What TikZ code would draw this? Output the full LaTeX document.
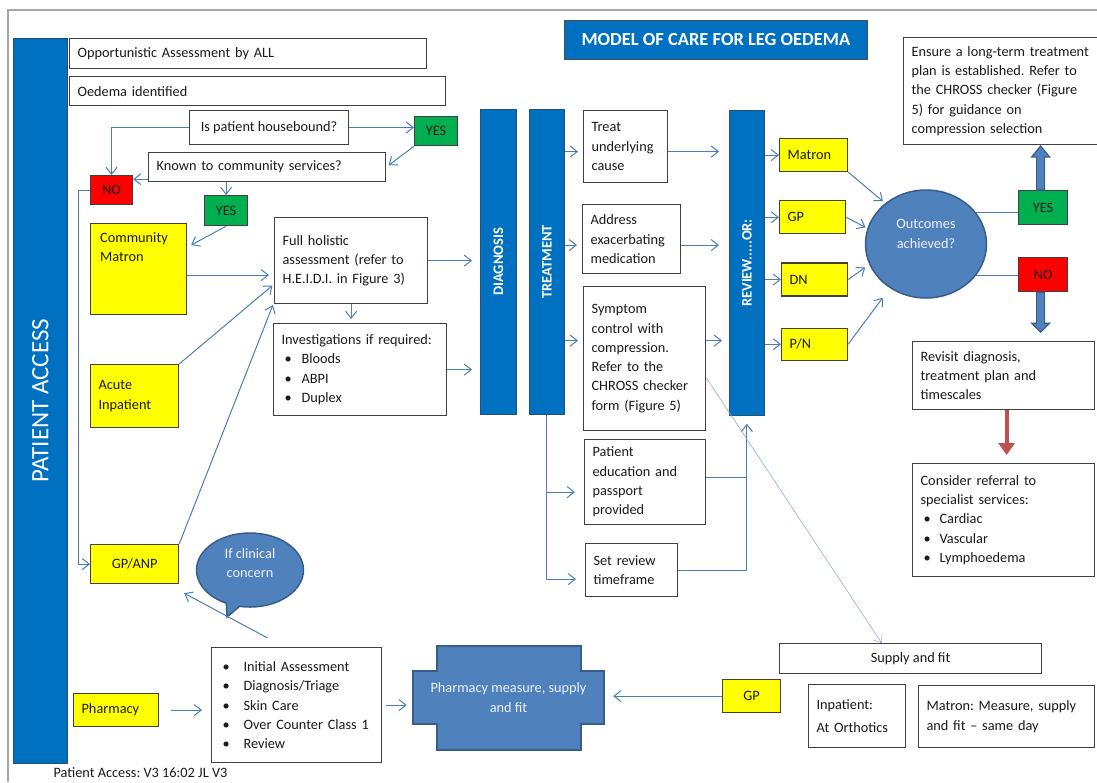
\documentclass[tikz,border=0pt]{standalone}
\usepackage{fontspec}
\setmainfont{Carlito}
\usetikzlibrary{arrows.meta, positioning, shapes.geometric, shapes.callouts}
\definecolor{nhsblue}{HTML}{0070C0}
\definecolor{barline}{HTML}{25507A}
\definecolor{conn}{HTML}{4A7EBB}
\definecolor{shapefill}{HTML}{4F81BD}
\definecolor{shapeline}{HTML}{385D8A}
\definecolor{shapetext}{HTML}{EEF2F8}
\definecolor{yel}{HTML}{FFFF00}
\definecolor{grn}{HTML}{00B050}
\definecolor{rd}{HTML}{FF0000}
\definecolor{redarrow}{HTML}{C0504D}
\definecolor{frame}{HTML}{A6A6A6}
\definecolor{txt}{HTML}{1A1A1A}
\newcommand{\blt}[1][20pt]{\makebox[#1][l]{\hspace{3pt}\textbullet}}
\frenchspacing
\hyphenpenalty=10000
\exhyphenpenalty=10000

\begin{document}
\begin{tikzpicture}[x=1pt, y=-1pt,
      every node/.style={font=\fontsize{14.3}{19.3}\selectfont, text=txt},
      box/.style={draw=black!75, line width=1.2pt, fill=white, align=left,
                  anchor=north west, inner xsep=8pt, inner ysep=2pt},
      ybox/.style={box, fill=yel},
      gbox/.style={box, fill=grn, align=center},
      rbox/.style={box, fill=rd, align=center},
      bar/.style={draw=barline, line width=0.8pt, fill=nhsblue, anchor=north west,
                  text=white, font=\fontsize{14.5}{17}\selectfont\bfseries},
      blob/.style={draw=shapeline, line width=1.5pt, fill=shapefill, text=shapetext, align=center},
      arr/.style={draw=conn, line width=1pt, -{Straight Barb[length=7pt, width=11pt]}},
      link/.style={draw=conn, line width=1pt},
      fatarr/.style={draw=shapeline, line width=1.2pt, fill=shapefill},
      redarr/.style={draw=redarrow, line width=4pt, -{Triangle[length=12pt, width=16pt]}}]
    \useasboundingbox (0,0) rectangle (1097,782);
    \draw[frame, line width=1.5pt] (8,782) -- (8,10) -- (1097,10);

    % bars and title
    \node[bar, minimum width=54pt, minimum height=725pt, font=\fontsize{25}{28}\selectfont] (access) at (13,38) {\rotatebox{90}{PATIENT ACCESS}};
    \node[bar, minimum width=303pt, minimum height=39pt, draw=black!70, font=\fontsize{18.5}{22}\selectfont\bfseries] (title) at (564,20) {MODEL OF CARE FOR LEG OEDEMA};
    \node[bar, minimum width=36pt, minimum height=305pt] (diag) at (480,109) {\rotatebox{90}{DIAGNOSIS}};
    \node[bar, minimum width=35pt, minimum height=305pt] (treat) at (529,109) {\rotatebox{90}{TREATMENT}};
    \node[bar, minimum width=35pt, minimum height=305pt] (review) at (729,110) {\rotatebox{90}{REVIEW.....OR:}};

    % entry
    \node[box, text width=341pt, minimum height=30pt] (opp) at (69,38) {Opportunistic Assessment by ALL};
    \node[box, text width=360pt, minimum height=29pt] (oed) at (69,76) {Oedema identified};
    \node[box, align=center, minimum width=159pt, minimum height=34pt] (hb) at (189,110) {Is patient housebound?};
    \node[gbox, minimum width=43pt, minimum height=29pt] (yes1) at (414,116) {YES};
    \node[box, text width=221pt, minimum height=29pt] (kcs) at (148,152) {Known to community services?};
    \node[rbox, minimum width=42pt, minimum height=29pt] (no1) at (90,175) {NO};
    \node[gbox, minimum width=43pt, minimum height=30pt] (yes2) at (204,195) {YES};

    % access routes
    \node[ybox, minimum width=96pt, minimum height=91pt] (cm) at (90,223) {};
    \node[anchor=north west, align=left, inner sep=0pt] (cmtext) at ([xshift=10pt, yshift=-9pt]cm.north west) {Community\\Matron};
    \node[ybox, text width=72pt, minimum height=63pt] (acute) at (90,364) {Acute\\Inpatient};
    \node[ybox, align=center, minimum width=88pt, minimum height=39pt] (gpanp) at (90,544) {GP/ANP};
    \node[ybox, text width=69pt, minimum height=33pt] (pharm) at (73,693) {Pharmacy};
    \node[ellipse callout, blob, minimum width=107pt, minimum height=74pt, text depth=14pt,
          callout absolute pointer={(227,617)}] (concern) at (250,570) {If clinical\\concern};

    % assessment
    \node[box, text width=137pt, minimum height=86pt] (fha) at (274,217) {Full holistic\\assessment (refer to\\H.E.I.D.I. in Figure 3)};
    \node[box, text width=157pt, minimum height=92pt] (inv) at (273,323) {Investigations if required:\\\blt Bloods\\\blt ABPI\\\blt Duplex};

    % treatment
    \node[box, text width=68pt, minimum height=72pt] (tuc) at (583,110) {Treat\\underlying\\cause};
    \node[box, text width=82pt, minimum height=69pt] (aem) at (582,204) {Address\\exacerbating\\medication};
    \node[box, text width=106pt, minimum height=144pt] (scc) at (583,286) {Symptom\\control with\\compression.\\Refer to the\\CHROSS checker\\form (Figure 5)};
    \node[box, text width=105pt, minimum height=85pt] (pep) at (584,439) {Patient\\education and\\passport\\provided};
    \node[box, text width=76pt, minimum height=53pt] (srt) at (585,543) {Set review\\timeframe};

    % review
    \node[ybox, text width=52pt, minimum height=33pt] (matron) at (779,138) {Matron};
    \node[ybox, text width=50pt, minimum height=33pt, below=28pt of matron.south west, anchor=north west] (gp) {GP};
    \node[ybox, text width=50pt, minimum height=33pt, below=28pt of gp.south west, anchor=north west, xshift=2pt] (dn) {DN};
    \node[ybox, text width=50pt, minimum height=32pt, below=31pt of dn.south west, anchor=north west] (pn) {P/N};
    \node[ellipse, blob, minimum width=121pt, minimum height=108pt, text depth=20pt] (out) at (926,244) {Outcomes\\achieved?};
    \node[gbox, minimum width=49pt, minimum height=34pt] (yes3) at (1018,190) {YES};
    \node[rbox, minimum width=49pt, minimum height=34pt] (no3) at (1018,257) {NO};
    \node[box, text width=180pt, minimum height=107pt] (ens) at (903,37) {Ensure a long-term treatment\\plan is established. Refer to\\the CHROSS checker (Figure\\5) for guidance on\\compression selection};
    \node[box, text width=166pt, minimum height=68pt] (rev) at (912,341) {Revisit diagnosis,\\treatment plan and\\timescales};
    \node[box, text width=166pt, minimum height=113pt] (cons) at (912,463) {Consider referral to\\specialist services:\\\blt[19pt]Cardiac\\\blt[19pt]Vascular\\\blt[19pt]Lymphoedema};

    % supply
    \node[box, align=center, minimum width=262pt, minimum height=30pt] (supply) at (779,643) {Supply and fit};
    \node[box, text width=81pt, minimum height=63pt] (inpo) at (808,684) {Inpatient:\\[3pt]At Orthotics};
    \node[box, text width=160pt, minimum height=62pt] (mms) at (918,685) {Matron: Measure, supply\\and fit -- same day};
    \node[ybox, align=center, minimum width=58pt, minimum height=33pt] (gpb) at (722,679) {GP};
    \node[box, text width=154pt, minimum height=115pt] (bl) at (211,647) {\blt[24pt]Initial Assessment\\\blt[24pt]Diagnosis/Triage\\\blt[24pt]Skin Care\\\blt[24pt]Over Counter Class 1\\\blt[24pt]Review};
    \draw[blob] (437,646) -- (581,646) -- (581,671) -- (604,671) -- (604,724) -- (581,724) -- (581,750)
          -- (437,750) -- (437,724) -- (413,724) -- (413,671) -- (437,671) -- cycle;
    \node[text=shapetext, align=center, minimum width=191pt, minimum height=53pt] (pmf) at (508.5,697.5) {Pharmacy measure, supply\\and fit};
    \node[anchor=west] (foot) at (50,773) {Patient Access: V3 16:02 JL V3};

    % connectors: entry
    \draw[arr] (hb.west) -| (no1.north);
    \draw[arr] (hb.east) -- (hb.east -| yes1.west);
    \draw[arr, shorten >=3pt] (yes1.south west) -- (kcs.east);
    \draw[arr] ([yshift=3pt]kcs.south west) -- ([yshift=3pt]no1.east |- kcs.south west);
    \draw[arr] (yes2.north |- kcs.south) -- (yes2.north);
    \draw[arr] (yes2.south) -- ([xshift=4pt, yshift=-22pt]cm.north east);
    \draw[arr] (no1.west) -- ++(-12,0) |- (gpanp.west);
    \draw[arr, shorten >=5pt] ([yshift=-6pt]cm.east) -- ([yshift=-6pt]fha.west |- cm.east);
    \draw[arr, shorten >=2pt] (acute.north east) -- ([yshift=20pt]fha.south west);
    \draw[arr, shorten >=3pt] (gpanp.north east) -- ([yshift=2pt]fha.south west);
    \draw[arr, shorten >=8pt] (fha.east) -- (fha.east -| diag.west);
    \draw[arr, shorten >=4pt] (fha.south) -- (fha.south |- inv.north);
    \draw[arr, shorten >=8pt] (inv.east) -- (inv.east -| diag.west);

    % connectors: treatment
    \draw[arr, shorten >=5pt] ([yshift=-5pt]treat.east |- tuc.west) -- ([yshift=-5pt]tuc.west);
    \draw[arr, shorten >=5pt] ([yshift=-6pt]treat.east |- aem.west) -- ([yshift=-6pt]aem.west);
    \draw[arr, shorten >=5pt] ([yshift=18pt]treat.east |- scc.west) -- ([yshift=18pt]scc.west);
    \draw[arr, shorten >=10pt] ([yshift=-5pt]tuc.east) -- ([yshift=-5pt]review.west |- tuc.east);
    \draw[arr, shorten >=10pt] ([yshift=-6pt]aem.east) -- ([yshift=-6pt]review.west |- aem.east);
    \draw[arr, shorten >=7pt] ([yshift=18pt]scc.east) -- ([yshift=18pt]review.west |- scc.east);
    \draw[arr, shorten >=9pt] (treat.south) |- ([yshift=-9pt]srt.west);
    \draw[arr, shorten >=9pt] ([yshift=-10pt]treat.south |- pep.west) -- ([yshift=-10pt]pep.west);
    \draw[arr, shorten >=8pt] ([yshift=5pt]pep.east) -| (review.south);
    \draw[link] (srt.east) -| ([yshift=5pt]review.south |- pep.east);
    \draw[arr, draw=conn!70, line width=0.5pt] ([yshift=-19pt]scc.east) -- ([xshift=-29pt]supply.north);

    % connectors: review
    \draw[arr] (review.east |- matron.west) -- (matron.west);
    \draw[arr] (review.east |- gp.west) -- (gp.west);
    \draw[arr] (review.east |- dn.west) -- (dn.west);
    \draw[arr] (review.east |- pn.west) -- (pn.west);
    \draw[arr, shorten >=3pt] (matron.south east) -- (out.135);
    \draw[arr, shorten >=2pt] (gp.east) -- (out.165);
    \draw[arr, shorten >=5pt] (dn.east) -- (out.200);
    \draw[arr] (pn.east) -- ([yshift=-15pt]out.south west);
    \draw[link] (out.32) -- (out.32 -| yes3.west);
    \draw[link] (out.-32) -- (out.-32 -| no3.west);
    \draw[fatarr] ([xshift=-6.5pt]yes3.north) -- ++(0,-33) -- ++(-5,0) -- ++(9,-11) -- ++(9,11)
          -- ++(-5,0) -- ++(0,33) -- cycle;
    \draw[fatarr] ([xshift=-6.5pt]no3.south) -- ++(0,31) -- ++(-5,0) -- ++(9,9) -- ++(9,-9)
          -- ++(-5,0) -- ++(0,-31) -- cycle;
    \draw[redarr, shorten >=8pt] ([xshift=3pt]rev.south) -- ([xshift=3pt]cons.north);

    % connectors: pharmacy
    \draw[arr, shorten <=12pt, shorten >=9pt] (pharm.east) -- (pharm.east -| bl.west);
    \draw[arr, shorten <=4pt, shorten >=6pt] (bl.east) -- (bl.east -| pmf.west);
    \draw[arr, shorten >=9pt] (gpb.west) -- (gpb.west -| pmf.east);
    \draw[arr] ([xshift=-29pt, yshift=9pt]bl.north) -- ([xshift=5pt, yshift=-9pt]gpanp.south east);
  \end{tikzpicture}
\end{document}
